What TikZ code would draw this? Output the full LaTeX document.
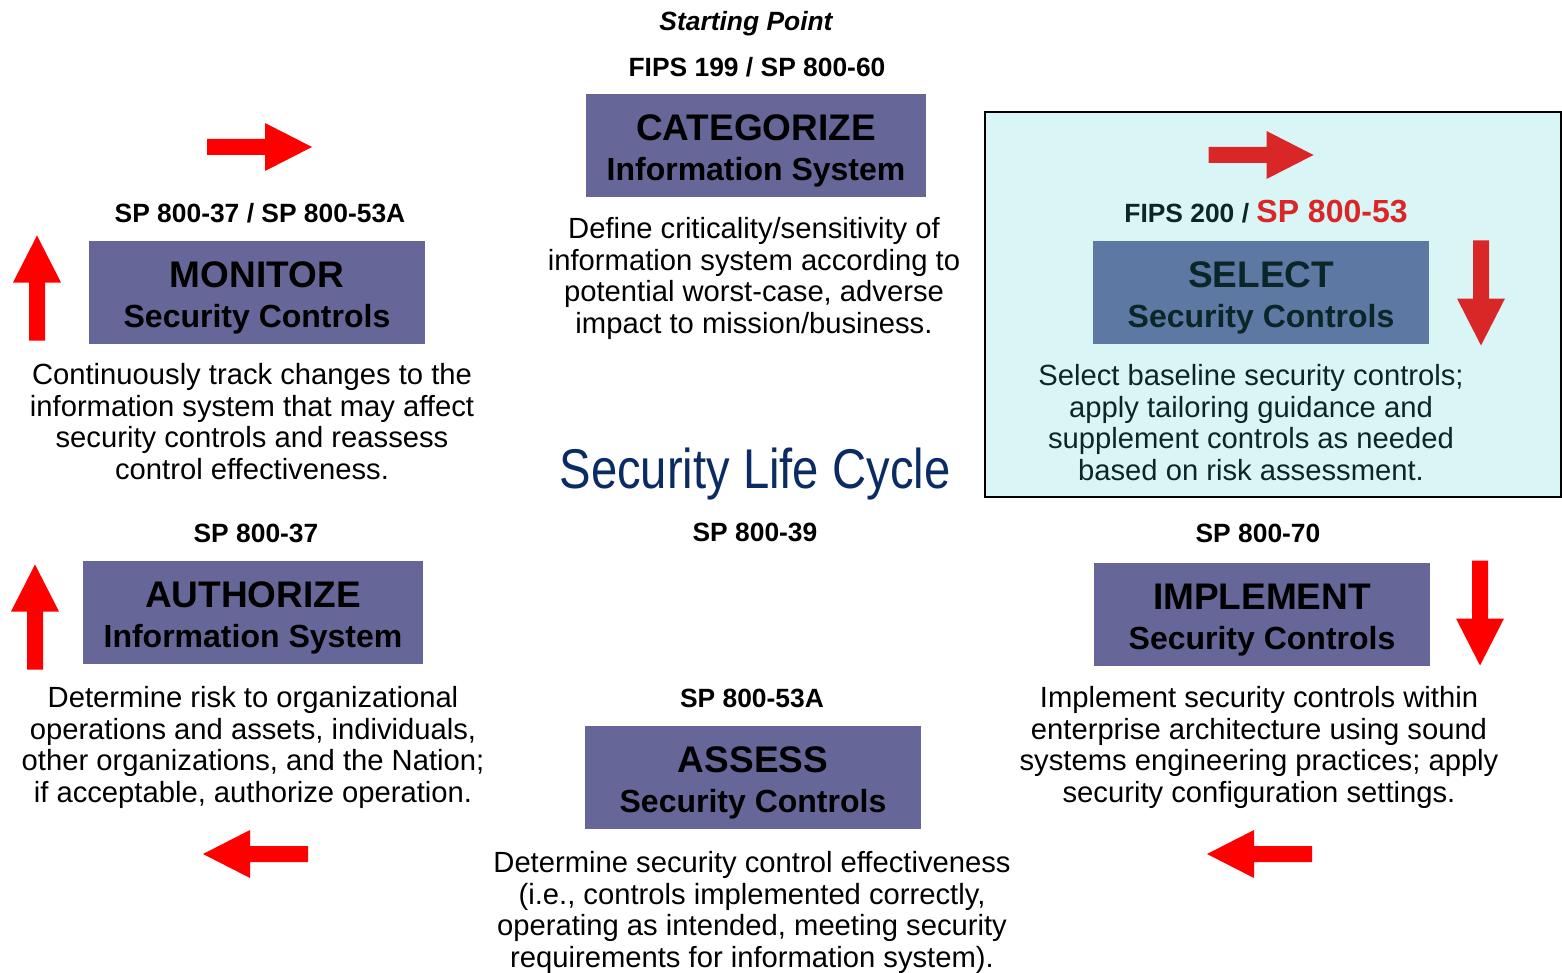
\documentclass[tikz,border=0pt]{standalone}
\usepackage{fontspec}
\setmainfont{Liberation Sans}
\newfontfamily\narrowfont[FakeStretch=0.843]{Liberation Sans}
\definecolor{boxfill}{RGB}{102,102,153}
\definecolor{arrowred}{RGB}{255,0,0}
\definecolor{titlenavy}{RGB}{10,43,99}
\definecolor{overlaycyan}{RGB}{58,202,206}
\newcommand\topstrutx{\rule{0pt}{18.3pt}}
\tikzset{
  stepbox/.style={fill=boxfill, minimum width=168pt, minimum height=51.5pt, inner sep=0pt,
    align=center, font=\bfseries\fontsize{16}{20}\selectfont},
  bodytext/.style={align=center, inner sep=0pt, font=\fontsize{14.6}{15.8}\selectfont},
  reflabel/.style={anchor=base, inner sep=0pt, font=\bfseries\fontsize{13.2}{15}\selectfont},
  panel/.style={fill=overlaycyan, fill opacity=0.19, draw=black, draw opacity=1, line width=1pt,
    minimum width=288pt, minimum height=192.5pt, inner sep=0pt},
  redarrow/.pic={\fill[arrowred] (-52.5,-8) -- (5.5,-8) -- (5.5,-24) -- (52.5,0) -- (5.5,24) -- (5.5,8) -- (-52.5,8) -- cycle;}
}
\begin{document}
\begin{tikzpicture}[x=0.5pt,y=-0.5pt]
\useasboundingbox (0,0) rectangle (1562,973);

% CATEGORIZE
\node[reflabel, font=\bfseries\itshape\fontsize{13.2}{15}\selectfont] (start) at (746,31) {Starting Point};
\node[reflabel] (catref) at (757,77) {FIPS 199 / SP 800-60};
\node[stepbox, minimum width=170pt] (categorize) at (756,145.5) {\topstrutx{\fontsize{18.5}{20}\selectfont CATEGORIZE}\\Information System};
\node[bodytext] (cattext) at (754,278.5) {Define criticality/sensitivity of\\information system according to\\potential worst-case, adverse\\impact to mission/business.};

% MONITOR
\node[reflabel] (monref) at (260,222) {SP 800-37 / SP 800-53A};
\node[stepbox] (monitor) at (257,292.5) {\topstrutx{\fontsize{18.5}{20}\selectfont MONITOR}\\Security Controls};
\node[bodytext] (montext) at (252,421.5) {Continuously track changes to the\\information system that may affect\\security controls and reassess\\control effectiveness.};

% SELECT
\node[reflabel] (selref) at (1266,222) {FIPS 200 / {\color{arrowred}\fontsize{16}{15}\selectfont SP 800-53}};
\node[stepbox] (select) at (1261,292.5) {\topstrutx{\fontsize{18.5}{20}\selectfont SELECT}\\Security Controls};
\node[bodytext] (seltext) at (1251,422.5) {Select baseline security controls;\\apply tailoring guidance and\\supplement controls as needed\\based on risk assessment.};

% Title
\node[anchor=base, inner sep=0pt, text=titlenavy, font=\narrowfont\fontsize{28}{30}\selectfont] (title) at (755,488) {Security Life Cycle};
\node[reflabel] (centerref) at (755,541) {SP 800-39};

% AUTHORIZE
\node[reflabel] (authref) at (256,542) {SP 800-37};
\node[stepbox, minimum width=170pt] (authorize) at (253,612.5) {\topstrutx{\fontsize{18.5}{20}\selectfont AUTHORIZE}\\Information System};
\node[bodytext] (authtext) at (253,747.5) {Determine risk to organizational\\operations and assets, individuals,\\other organizations, and the Nation;\\if acceptable, authorize operation.};

% IMPLEMENT
\node[reflabel] (implref) at (1258,542) {SP 800-70};
\node[stepbox] (implement) at (1262,614.5) {\topstrutx{\fontsize{18.5}{20}\selectfont IMPLEMENT}\\Security Controls};
\node[bodytext] (impltext) at (1259,747.5) {Implement security controls within\\enterprise architecture using sound\\systems engineering practices; apply\\security configuration settings.};

% ASSESS
\node[reflabel] (assref) at (752,707) {SP 800-53A};
\node[stepbox] (assess) at (753,777.5) {\topstrutx{\fontsize{18.5}{20}\selectfont ASSESS}\\Security Controls};
\node[bodytext] (asstext) at (752,912.5) {Determine security control effectiveness\\(i.e., controls implemented correctly,\\operating as intended, meeting security\\requirements for information system).};

% arrows
\pic at (259.5,147) {redarrow};
\pic[rotate=90] at (37,288) {redarrow};
\pic at (1261,155) {redarrow};
\pic[rotate=-90] at (1481,293) {redarrow};
\pic[rotate=-90] at (1480,613) {redarrow};
\pic[rotate=180] at (1259.5,854) {redarrow};
\pic[rotate=180] at (255.5,854) {redarrow};
\pic[rotate=90] at (35,617) {redarrow};

% highlight panel over SELECT
\node[panel] (selpanel) at (1273,304.5) {};
\end{tikzpicture}
\end{document}
